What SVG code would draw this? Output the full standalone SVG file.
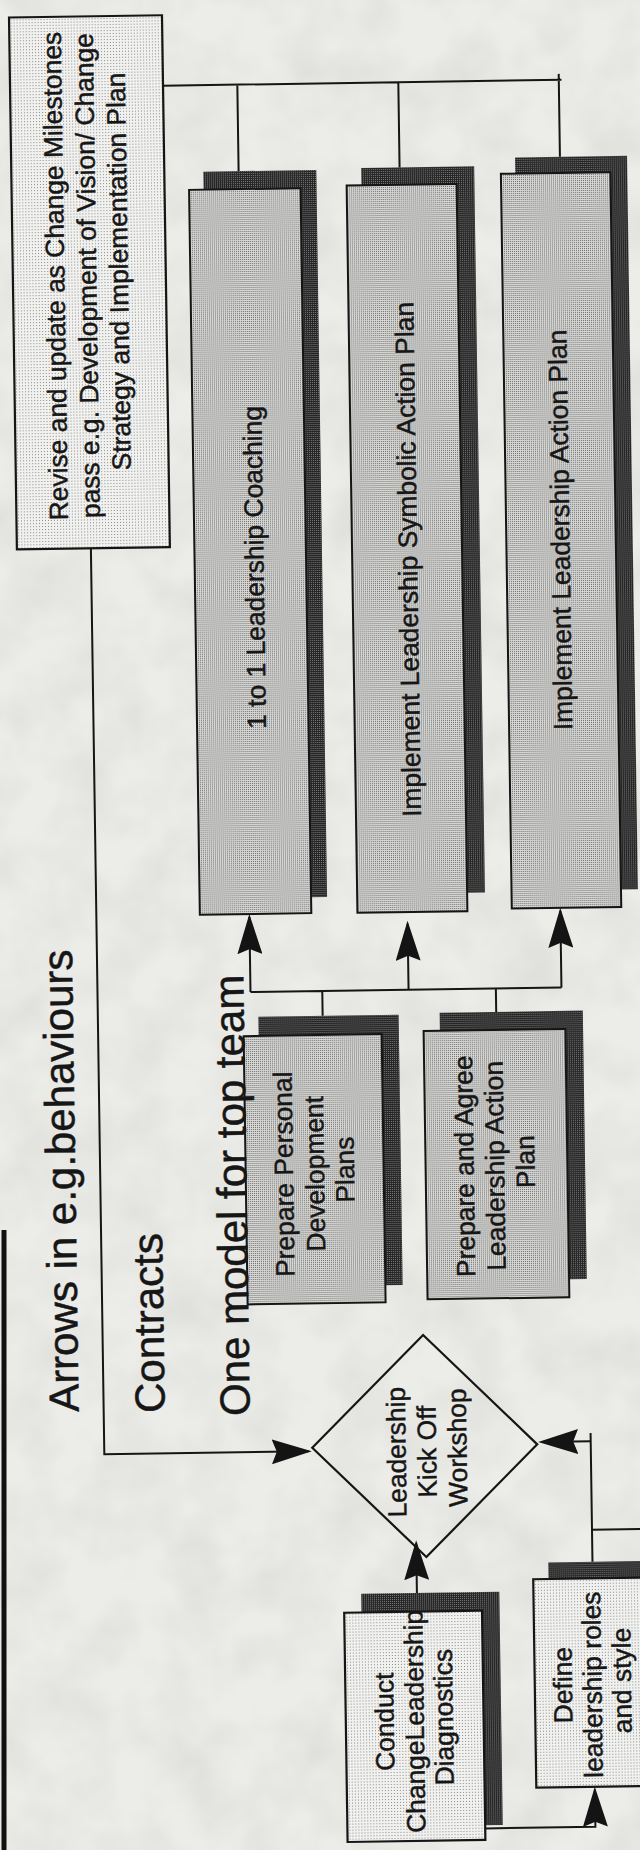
<svg xmlns="http://www.w3.org/2000/svg" width="640" height="1850" viewBox="0 0 640 1850">
  <defs>
    <!-- halftone screens used by the boxes -->
    <pattern id="fillMid" width="2" height="2" patternUnits="userSpaceOnUse">
      <rect width="2" height="2" fill="#d6d6d4"/>
      <rect width="1" height="1" fill="#6e6e6e"/>
    </pattern>
    <pattern id="fillDark" width="2" height="2" patternUnits="userSpaceOnUse">
      <rect width="2" height="2" fill="#242424"/>
      <rect width="1" height="1" fill="#7c7c7c"/>
    </pattern>
    <pattern id="fillLight" width="3" height="3" patternUnits="userSpaceOnUse">
      <rect width="3" height="3" fill="#f1f1ef"/>
      <rect width="1" height="1" fill="#8a8a8a"/>
    </pattern>
    <!-- mottled paper -->
    <filter id="paper" x="0" y="0" width="100%" height="100%">
      <feTurbulence type="fractalNoise" baseFrequency="0.018" numOctaves="3" seed="7" result="n"/>
      <feColorMatrix in="n" type="matrix" values="0 0 0 0 0.55  0 0 0 0 0.55  0 0 0 0 0.53  0 0 0 0.55 -0.18"/>
    </filter>
    <marker id="arrow" viewBox="0 0 40 25" refX="37" refY="12.5" markerWidth="40" markerHeight="25" markerUnits="userSpaceOnUse" orient="auto">
      <path d="M0,0 L40,12.5 L0,25 L5,12.5 Z" fill="#141414"/>
    </marker>
  </defs>
  <style>
    .shadow { fill: url(#fillDark); }
    .card { fill: url(#fillMid); stroke: #151515; stroke-width: 2; }
    .note { fill: url(#fillLight); stroke: #151515; stroke-width: 2.2; }
    .decision { fill: none; stroke: #151515; stroke-width: 2.2; }
    .lbl { font-family: "Liberation Sans", Arial, Helvetica, sans-serif; font-size: 26.4px; fill: #161616; stroke: #161616; stroke-width: 0.45px; text-anchor: middle; }
    .title { font-family: "Liberation Sans", Arial, Helvetica, sans-serif; font-size: 42px; fill: #161616; stroke: #161616; stroke-width: 0.5px; }
    .wire { fill: none; stroke: #151515; stroke-width: 2; }
    .arr { marker-end: url(#arrow); }
  </style>

  <rect width="640" height="1850" fill="#ecece9"/>
  <rect width="640" height="1850" filter="url(#paper)"/>
  <!-- page frame edge -->
  <line x1="4" y1="1230" x2="4" y2="1850" stroke="#111" stroke-width="5"/>

  <g id="sheet" transform="rotate(-0.85 320 925)">
    <g id="revise">
      <rect class="note" x="22.5" y="13" width="153" height="532"/>
      <text class="lbl" transform="translate(74 268.6) rotate(-90)">
        <tspan x="0" y="0">Revise and update as Change Milestones</tspan>
        <tspan x="0" dy="32">pass e.g. Development of Vision/ Change</tspan>
        <tspan x="0" dy="31.5">Strategy and Implementation Plan</tspan>
      </text>
    </g>

    <g id="coaching">
      <rect class="shadow" x="214.5" y="170" width="113" height="727"/>
      <rect class="card" x="200" y="188" width="111.5" height="725"/>
      <text class="lbl" transform="translate(268.9 566.5) rotate(-90)">1 to 1 Leadership Coaching</text>
    </g>

    <g id="symbolic-plan">
      <rect class="shadow" x="372.4" y="168.7" width="113" height="726.3"/>
      <rect class="card" x="357.6" y="186" width="110" height="727.4"/>
      <text class="lbl" transform="translate(422.5 560.8) rotate(-90)">Implement Leadership Symbolic Action Plan</text>
    </g>

    <g id="action-plan">
      <rect class="shadow" x="526.4" y="160.5" width="112" height="733.4"/>
      <rect class="card" x="512" y="176.6" width="109.5" height="734.8"/>
      <text class="lbl" transform="translate(575.2 533.6) rotate(-90)">Implement Leadership Action Plan</text>
    </g>

    <g id="personal-plans">
      <rect class="shadow" x="257" y="1015.8" width="140.3" height="270.3"/>
      <rect class="card" x="242" y="1035" width="138" height="268.3"/>
      <text class="lbl" transform="translate(289.4 1170) rotate(-90)">
        <tspan x="0" y="0">Prepare Personal</tspan>
        <tspan x="0" dy="31">Development</tspan>
        <tspan x="0" dy="30">Plans</tspan>
      </text>
    </g>

    <g id="agree-plan">
      <rect class="shadow" x="438.3" y="1014.5" width="143.2" height="268.4"/>
      <rect class="card" x="422" y="1032.6" width="141.8" height="268.3"/>
      <text class="lbl" transform="translate(470 1164.7) rotate(-90)">
        <tspan x="0" y="0">Prepare and Agree</tspan>
        <tspan x="0" dy="30.5">Leadership Action</tspan>
        <tspan x="0" dy="30.5">Plan</tspan>
      </text>
    </g>

    <g id="kickoff">
      <polygon class="decision" points="304.5,1447.5 417,1336.5 529.5,1447.5 417,1558.5"/>
      <text class="lbl" transform="translate(397.8 1449.6) rotate(-90)">
        <tspan x="0" y="0">Leadership</tspan>
        <tspan x="0" dy="30.5">Kick Off</tspan>
        <tspan x="0" dy="30.5">Workshop</tspan>
      </text>
    </g>

    <g id="diagnostics">
      <rect class="shadow" x="351.3" y="1594.3" width="138.1" height="233.2"/>
      <rect class="note" x="334" y="1613" width="137.8" height="229.3"/>
      <text class="lbl" transform="translate(382 1719) rotate(-90)">
        <tspan x="0" y="0">Conduct</tspan>
        <tspan x="0" dy="30">ChangeLeadership</tspan>
        <tspan x="0" dy="29">Diagnostics</tspan>
      </text>
    </g>

    <g id="roles">
      <rect class="shadow" x="538.8" y="1565.7" width="140" height="208"/>
      <rect class="note" x="523.5" y="1582.3" width="140" height="208.4"/>
      <text class="lbl" transform="translate(560.7 1685) rotate(-90)">
        <tspan x="0" y="0">Define</tspan>
        <tspan x="0" dy="29.5">leadership roles</tspan>
        <tspan x="0" dy="29.5">and style</tspan>
      </text>
    </g>

    <g id="connectors">
      <!-- milestone review bus -->
      <path class="wire" d="M175.5,83.5 H574 M249.8,83.5 V170 M410.8,83.5 V168.7 M571.3,77.5 V160.5"/>
      <!-- review loop back into the workshop -->
      <path class="wire arr" d="M96.5,545 V1451 H301"/>
      <!-- plans feed the three implementation streams -->
      <path class="wire" d="M249.5,991 H560.5 M321.3,991 V1015.8 M494.9,991 V1014.5"/>
      <path class="wire arr" d="M249.5,991 V916"/>
      <path class="wire arr" d="M407.6,991 V925"/>
      <path class="wire arr" d="M560.5,991 V914.4"/>
      <!-- diagnostics and roles into the workshop -->
      <path class="wire arr" d="M407,1594.3 V1544.5"/>
      <path class="wire arr" d="M471.8,1830.8 H582 V1793.7"/>
      <path class="wire" d="M583,1565.7 V1437 M583,1533.7 H690"/>
      <path class="wire arr" d="M583,1445.3 H533.5"/>
    </g>

    <g id="headings">
      <text class="title" transform="translate(71.5 1408) rotate(-90)">Arrows in e.g.behaviours</text>
      <text class="title" transform="translate(157.5 1410.4) rotate(-90)">Contracts</text>
      <text class="title" transform="translate(242.5 1414.7) rotate(-90)">One model for top team</text>
    </g>
  </g>
</svg>
